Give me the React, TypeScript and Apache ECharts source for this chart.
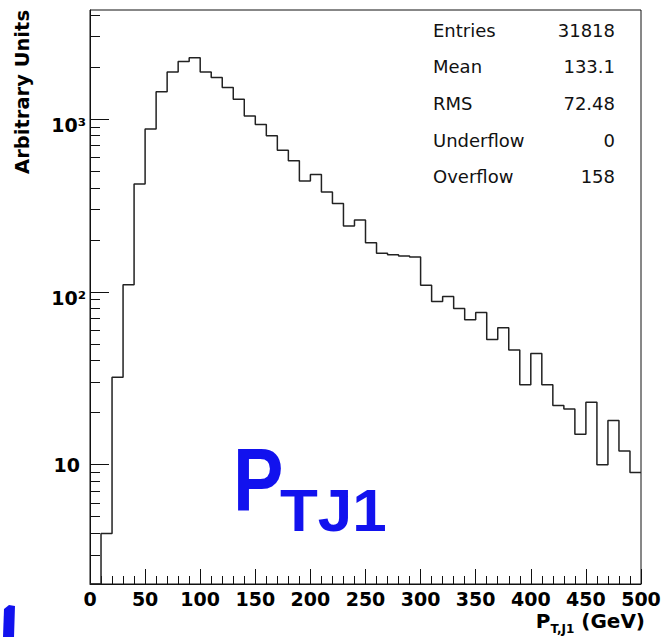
import React, { useEffect, useRef } from 'react';
import * as echarts from 'echarts';

// ---- data ----
const BIN_WIDTH = 10; // GeV
const X_MIN = 0;
const X_MAX = 500;
const X_INTERVAL = 50;
const COUNTS = [
  0, 4, 32, 110, 420, 875, 1435, 1870, 2150, 2260,
  1870, 1735, 1520, 1300, 1040, 930, 800, 660, 573, 437,
  478, 378, 324, 240, 260, 192, 167, 164, 161, 159,
  109, 88, 94, 80, 69, 76, 53, 62, 46, 29,
  44, 29, 22, 21, 15, 23, 10, 18, 12, 9,
];
const Y_MIN = 2.04;
const Y_MAX = 4270;
const Y_MAJOR_TICKS = [10, 100, 1000];
const Y_MINOR_TICKS = [
  3, 4, 5, 6, 7, 8, 9,
  20, 30, 40, 50, 60, 70, 80, 90,
  200, 300, 400, 500, 600, 700, 800, 900,
  2000, 3000, 4000,
];
const STAT_NAMES = ['Entries', 'Mean', 'RMS', 'Underflow', 'Overflow'];
const STAT_VALUES = ['31818', '133.1', '72.48', '0', '158'];
const Y_TITLE = 'Arbitrary Units';
const X_TITLE_MAIN = 'P';
const X_TITLE_SUB = 'T,J1';
const X_TITLE_UNIT = '(GeV)';
const NOTE_MAIN = 'P';
const NOTE_SUB = 'TJ1';

const FONT = 'DejaVu Sans';
const BLUE = '#1212ee';
const SUP: Record<string, string> = {
  '0': '⁰', '1': '¹', '2': '²', '3': '³', '4': '⁴',
  '5': '⁵', '6': '⁶', '7': '⁷', '8': '⁸', '9': '⁹',
};

export default function App() {
  const ref = useRef<HTMLDivElement>(null);

  useEffect(() => {
    document.body.style.margin = '0';
    if (!ref.current) return;
    const chart = echarts.init(ref.current, undefined, { renderer: 'svg' });

    const stepData: [number, number][] = COUNTS.map((c, i) => [
      X_MIN + i * BIN_WIDTH,
      Math.max(c, Y_MIN),
    ]);
    stepData.push([X_MAX, Math.max(COUNTS[COUNTS.length - 1], Y_MIN)]);

    const statsGraphics: any[] = [];
    STAT_NAMES.forEach((name, i) => {
      const y = 30 + i * 36.7;
      statsGraphics.push({
        type: 'text',
        x: 433,
        y,
        style: {
          text: name,
          fontFamily: FONT,
          fontSize: 18,
          fill: '#111',
          textAlign: 'left',
          textVerticalAlign: 'middle',
        },
      });
      statsGraphics.push({
        type: 'text',
        x: 615,
        y,
        style: {
          text: STAT_VALUES[i],
          fontFamily: FONT,
          fontSize: 18,
          fill: '#111',
          textAlign: 'right',
          textVerticalAlign: 'middle',
        },
      });
    });

    const yLabelFormatter = (v: number) => {
      const e = Math.round(Math.log10(v));
      if (e === 1) return '{p|10}';
      const sup = String(e).split('').map((d) => SUP[d]).join('');
      return '{e|10' + sup + '}';
    };

    const option: any = {
      animation: false,
      backgroundColor: '#fff',
      grid: {
        left: 90,
        right: 21,
        top: 10,
        bottom: 53,
        show: true,
        borderColor: '#111',
        borderWidth: 1,
        containLabel: false,
        outerBoundsMode: 'none',
      },
      xAxis: {
        type: 'value',
        min: X_MIN,
        max: X_MAX,
        interval: X_INTERVAL,
        axisLine: { show: true, lineStyle: { color: '#111', width: 1 } },
        axisTick: { show: true, inside: true, length: 15, lineStyle: { color: '#111', width: 1 } },
        minorTick: { show: true, splitNumber: 5, length: 8, lineStyle: { color: '#111', width: 1 } },
        axisLabel: {
          margin: 7,
          fontFamily: FONT,
          fontWeight: 'bold',
          fontSize: 19,
          lineHeight: 15,
          color: '#000',
          showMinLabel: true,
          showMaxLabel: true,
        },
        splitLine: { show: false },
        minorSplitLine: { show: false },
      },
      yAxis: [
        {
          type: 'log',
          logBase: 10,
          min: Y_MIN,
          max: Y_MAX,
          axisLine: { show: true, lineStyle: { color: '#111', width: 1 } },
          axisTick: {
            show: true,
            inside: true,
            length: 19,
            customValues: Y_MAJOR_TICKS,
            lineStyle: { color: '#111', width: 1 },
          },
          axisLabel: {
            show: true,
            margin: 4,
            customValues: Y_MAJOR_TICKS,
            formatter: yLabelFormatter,
            rich: {
              p: {
                fontFamily: FONT,
                fontWeight: 'bold',
                fontSize: 19,
                color: '#000',
                lineHeight: 14,
                padding: [0, 6, 0, 0],
              },
              e: {
                fontFamily: FONT,
                fontWeight: 'bold',
                fontSize: 19,
                color: '#000',
                lineHeight: 14,
                padding: [13, 0, 0, 0],
              },
            },
          },
          splitLine: { show: false },
        },
        {
          type: 'log',
          logBase: 10,
          min: Y_MIN,
          max: Y_MAX,
          position: 'left',
          axisLine: { show: false },
          axisTick: {
            show: true,
            inside: true,
            length: 10,
            customValues: Y_MINOR_TICKS,
            lineStyle: { color: '#111', width: 1 },
          },
          axisLabel: { show: false },
          splitLine: { show: false },
        },
      ],
      series: [
        {
          type: 'line',
          xAxisIndex: 0,
          yAxisIndex: 0,
          step: 'end',
          symbol: 'none',
          clip: true,
          data: stepData,
          lineStyle: { color: '#222', width: 1.5 },
          silent: true,
        },
      ],
      graphic: [
        {
          type: 'text',
          x: 22,
          y: 10,
          rotation: Math.PI / 2,
          style: {
            text: Y_TITLE,
            fontFamily: FONT,
            fontWeight: 'bold',
            fontSize: 19.5,
            fill: '#000',
            textAlign: 'right',
            textVerticalAlign: 'middle',
          },
        },
        {
          type: 'text',
          x: 645,
          y: 611,
          style: {
            text: '{p|' + X_TITLE_MAIN + '}{s|' + X_TITLE_SUB + '}{p| ' + X_TITLE_UNIT + '}',
            textAlign: 'right',
            textVerticalAlign: 'top',
            rich: {
              p: {
                fontFamily: FONT,
                fontWeight: 'bold',
                fontSize: 20,
                fill: '#000',
                lineHeight: 20,
                verticalAlign: 'top',
              },
              s: {
                fontFamily: FONT,
                fontWeight: 'bold',
                fontSize: 12,
                fill: '#000',
                lineHeight: 12,
                padding: [12, 0, 0, 0],
                verticalAlign: 'top',
              },
            },
          },
        },
        ...statsGraphics,
        {
          type: 'text',
          x: 233,
          y: 480,
          scaleX: 0.85,
          style: {
            text: NOTE_MAIN,
            fontFamily: 'Liberation Sans',
            fontWeight: 'bold',
            fontSize: 89,
            fill: BLUE,
            textAlign: 'left',
            textVerticalAlign: 'middle',
          },
        },
        {
          type: 'text',
          x: 280,
          y: 511,
          scaleX: 1.05,
          style: {
            text: NOTE_SUB,
            fontFamily: 'Liberation Sans',
            fontWeight: 'bold',
            fontSize: 59,
            fill: BLUE,
            textAlign: 'left',
            textVerticalAlign: 'middle',
          },
        },
        {
          type: 'polygon',
          shape: {
            points: [
              [4, 609],
              [9, 605],
              [15, 606],
              [14, 637],
              [3, 637],
            ],
          },
          style: { fill: BLUE },
        },
      ],
    };

    chart.setOption(option);
    return () => {
      chart.dispose();
    };
  }, []);

  return <div ref={ref} style={{ width: 662, height: 637 }} />;
}
